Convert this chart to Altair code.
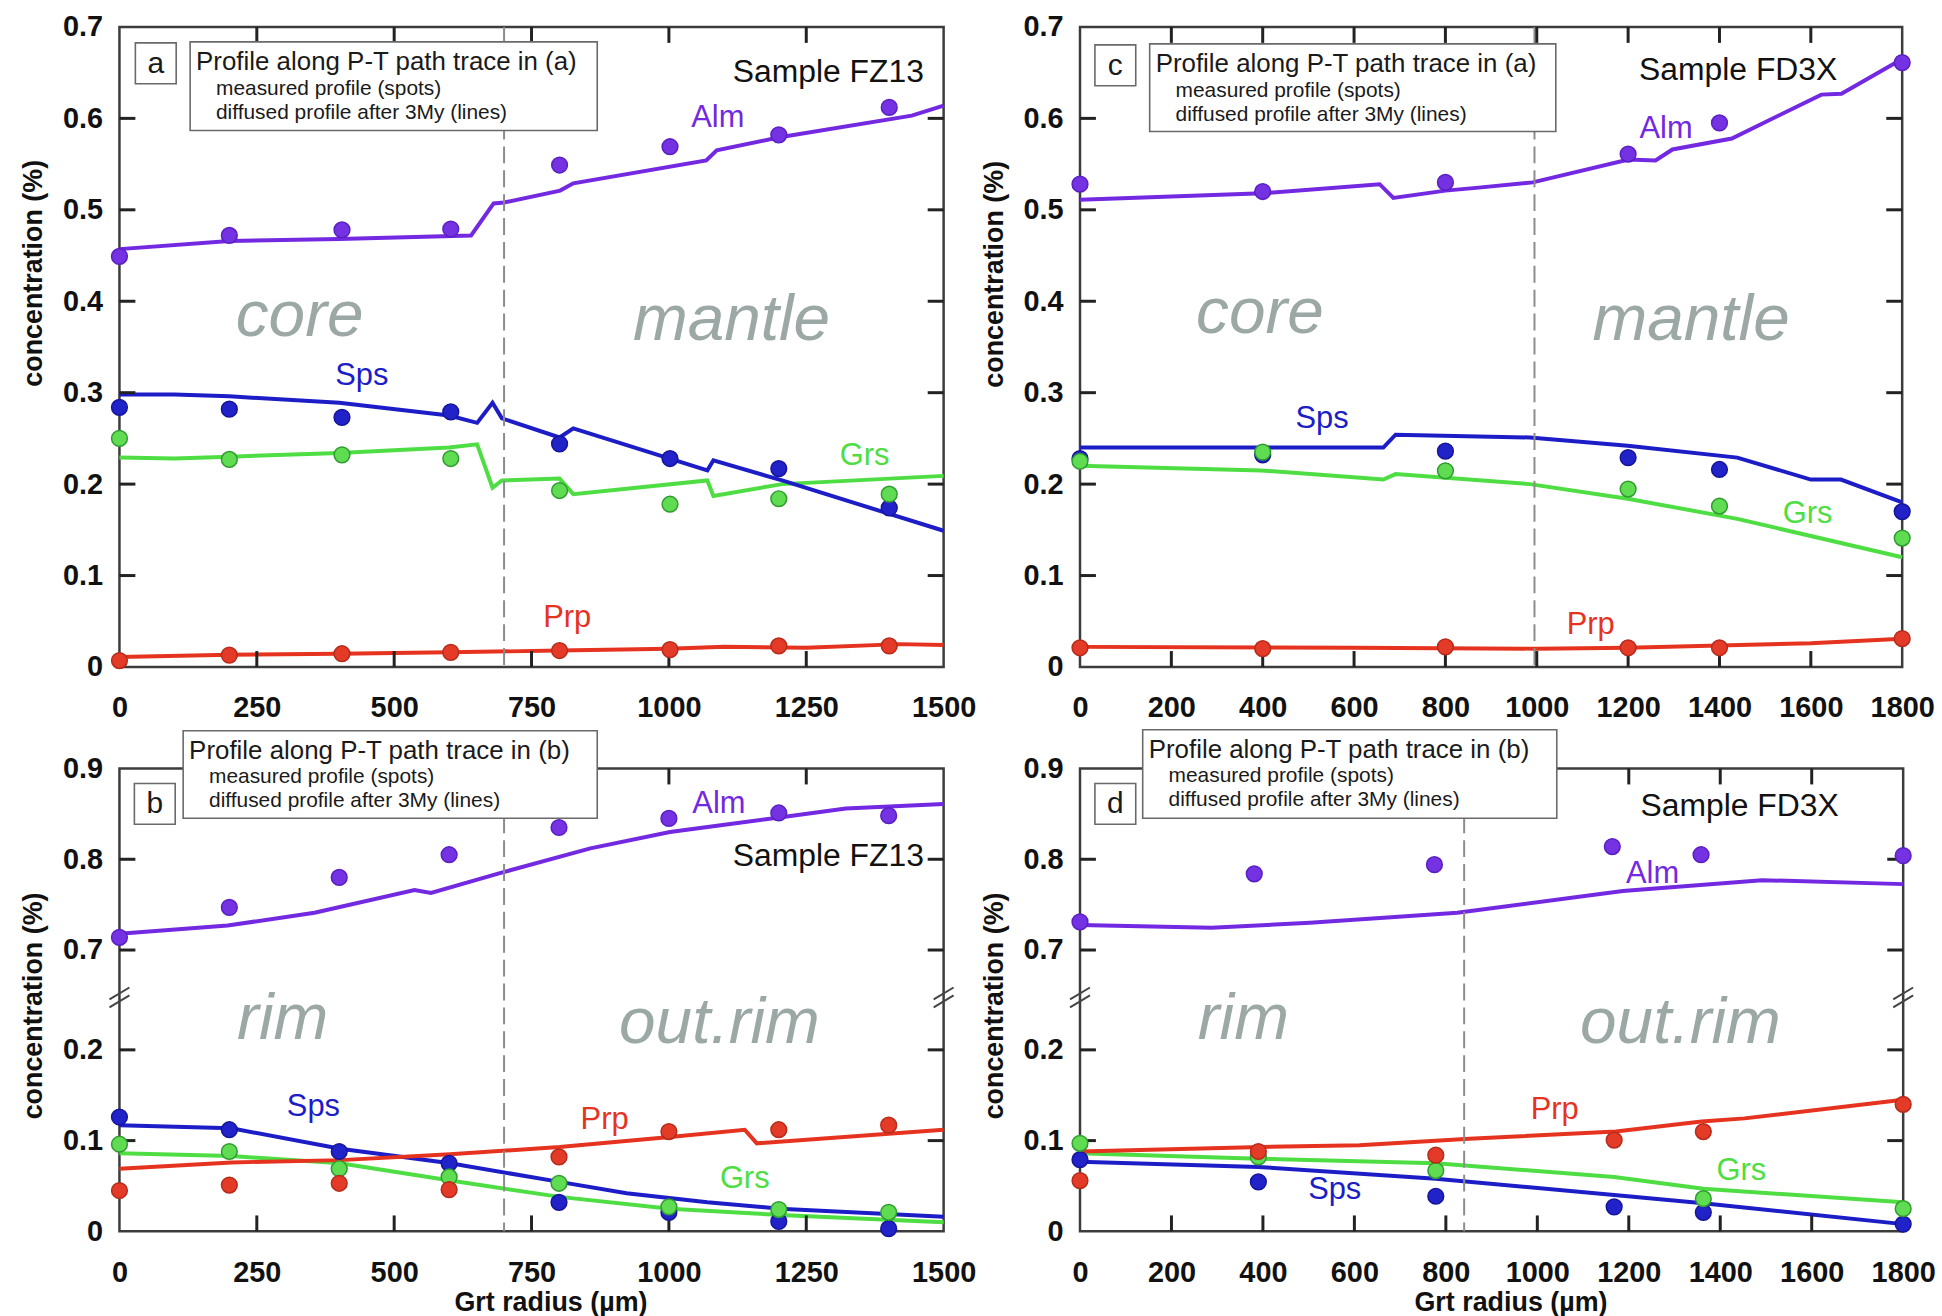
import altair as alt
import pandas as pd

FONT = "Liberation Sans, Arial, Helvetica, sans-serif"
SPECIES = ["Alm", "Sps", "Grs", "Prp"]
LINE_COLORS = ["#7329e1", "#1d1dc7", "#4ede43", "#e6331f"]
DOT_FILLS = ["#7432e3", "#2222c9", "#5fdc52", "#e33b28"]
DOT_STROKES = ["#5a1fc2", "#15159c", "#2f9b30", "#b62b1b"]
REGION_GRAY = "#9ba8a5"

# ---------------- panel a (FZ13, path a) ----------------
A_PTS_X = [0, 200, 405, 603, 801, 1002, 1200, 1401]
A_PTS_ALM = [0.449, 0.472, 0.478, 0.479, 0.549, 0.569, 0.582, 0.612]
A_PTS_SPS = [0.284, 0.282, 0.273, 0.279, 0.244, 0.228, 0.217, 0.174]
A_PTS_GRS = [0.250, 0.227, 0.232, 0.228, 0.193, 0.178, 0.184, 0.189]
A_PTS_PRP = [0.007, 0.013, 0.0145, 0.016, 0.018, 0.019, 0.023, 0.023]
A_ALM_X = [0, 200, 400, 640, 681, 700, 802, 826, 1068, 1087, 1199, 1442, 1500]
A_ALM_C = [0.457, 0.466, 0.468, 0.472, 0.507, 0.508, 0.521, 0.529, 0.554, 0.565, 0.579, 0.603, 0.614]
A_SPS_X = [0, 100, 200, 400, 600, 651, 679, 696, 801, 826, 1070, 1081, 1206, 1500]
A_SPS_C = [0.298, 0.298, 0.296, 0.289, 0.275, 0.267, 0.289, 0.272, 0.251, 0.261, 0.215, 0.226, 0.204, 0.149]
A_GRS_X = [0, 100, 200, 400, 600, 651, 679, 696, 801, 826, 1070, 1081, 1206, 1500]
A_GRS_C = [0.229, 0.228, 0.230, 0.234, 0.240, 0.2435, 0.196, 0.204, 0.206, 0.189, 0.204, 0.187, 0.200, 0.209]
A_PRP_X = [0, 200, 400, 600, 800, 1000, 1100, 1250, 1420, 1500]
A_PRP_C = [0.011, 0.0135, 0.0145, 0.016, 0.018, 0.020, 0.022, 0.021, 0.025, 0.024]
A_LBL_X = [1089, 441, 1356, 815]
A_LBL_C = [0.600, 0.318, 0.231, 0.053]

# ---------------- panel c (FD3X, path a) ----------------
C_PTS_X = [0, 400, 800, 1200, 1400, 1800]
C_PTS_ALM = [0.528, 0.520, 0.530, 0.561, 0.595, 0.661]
C_PTS_SPS = [0.228, 0.232, 0.236, 0.229, 0.216, 0.170]
C_PTS_GRS = [0.225, 0.235, 0.2145, 0.1946, 0.176, 0.141]
C_PTS_PRP = [0.021, 0.020, 0.022, 0.021, 0.021, 0.031]
C_ALM_X = [0, 400, 656, 686, 800, 867, 991, 1201, 1260, 1297, 1427, 1623, 1667, 1800]
C_ALM_C = [0.511, 0.518, 0.528, 0.513, 0.521, 0.524, 0.530, 0.555, 0.554, 0.566, 0.578, 0.626, 0.627, 0.665]
C_SPS_X = [0, 664, 691, 985, 1199, 1439, 1600, 1666, 1800]
C_SPS_C = [0.240, 0.240, 0.254, 0.251, 0.242, 0.229, 0.205, 0.205, 0.180]
C_GRS_X = [0, 397, 664, 691, 985, 1199, 1439, 1800]
C_GRS_C = [0.220, 0.215, 0.205, 0.211, 0.200, 0.184, 0.162, 0.120]
C_PRP_X = [0, 600, 1000, 1200, 1600, 1800]
C_PRP_C = [0.022, 0.021, 0.020, 0.021, 0.026, 0.031]
C_LBL_X = [1283, 530, 1593, 1118]
C_LBL_C = [0.588, 0.271, 0.167, 0.046]

# ---------------- panel b (FZ13, path b) ----------------
B_PTS_X = [0, 200, 400, 600, 800, 1000, 1200, 1400]
B_PTS_ALM = [0.714, 0.747, 0.780, 0.805, 0.835, 0.845, 0.851, 0.848]
B_PTS_SPS = [0.126, 0.112, 0.088, 0.075, 0.032, 0.021, 0.011, 0.003]
B_PTS_GRS = [0.096, 0.088, 0.069, 0.060, 0.053, 0.027, 0.024, 0.021]
B_PTS_PRP = [0.045, 0.051, 0.053, 0.046, 0.082, 0.110, 0.112, 0.117]
B_ALM_X = [0, 197, 355, 537, 567, 694, 857, 1002, 1201, 1322, 1500]
B_ALM_C = [0.718, 0.727, 0.741, 0.766, 0.763, 0.785, 0.812, 0.830, 0.846, 0.856, 0.861]
B_SPS_X = [0, 204, 402, 602, 801, 923, 1070, 1202, 1500]
B_SPS_C = [0.117, 0.1135, 0.091, 0.075, 0.0545, 0.042, 0.032, 0.025, 0.016]
B_GRS_X = [0, 204, 402, 602, 801, 1002, 1202, 1500]
B_GRS_C = [0.086, 0.083, 0.075, 0.056, 0.038, 0.025, 0.018, 0.010]
B_PRP_X = [0, 204, 402, 602, 801, 1002, 1138, 1160, 1500]
B_PRP_C = [0.069, 0.076, 0.0785, 0.085, 0.093, 0.104, 0.112, 0.097, 0.112]
B_LBL_X = [1091, 353, 1138, 883]
B_LBL_C = [0.861, 0.137, 0.058, 0.123]

# ---------------- panel d (FD3X, path b) ----------------
D_ALM_PX = [0, 381, 775, 1164, 1358, 1800]
D_PTS_ALM = [0.731, 0.784, 0.794, 0.814, 0.805, 0.804]
D_SPS_PX = [0, 390, 778, 1168, 1363, 1800]
D_PTS_SPS = [0.079, 0.0545, 0.0387, 0.027, 0.021, 0.008]
D_GRS_PX = [0, 390, 778, 1363, 1800]
D_PTS_GRS = [0.097, 0.082, 0.067, 0.036, 0.025]
D_PRP_PX = [0, 390, 778, 1168, 1363, 1800]
D_PTS_PRP = [0.056, 0.088, 0.084, 0.1006, 0.110, 0.140]
D_ALM_X = [0, 288, 503, 825, 1187, 1491, 1800]
D_ALM_C = [0.7276, 0.7246, 0.730, 0.741, 0.765, 0.777, 0.7726]
D_SPS_X = [0, 390, 778, 1168, 1363, 1800]
D_SPS_C = [0.0766, 0.071, 0.058, 0.040, 0.031, 0.008]
D_GRS_X = [0, 390, 778, 1168, 1363, 1800]
D_GRS_C = [0.086, 0.080, 0.075, 0.060, 0.047, 0.032]
D_PRP_X = [0, 397, 611, 851, 1172, 1359, 1453, 1800]
D_PRP_C = [0.088, 0.093, 0.095, 0.102, 0.110, 0.121, 0.1245, 0.145]
D_LBL_X = [1252, 557, 1446, 1038]
D_LBL_C = [0.784, 0.045, 0.067, 0.1337]

# axis ticks
X_TICKS_1500 = [0, 250, 500, 750, 1000, 1250, 1500]
X_TICKS_1800 = [0, 200, 400, 600, 800, 1000, 1200, 1400, 1600, 1800]
Y_TICKS_TOP = [0, 0.1, 0.2, 0.3, 0.4, 0.5, 0.6, 0.7]
Y_TICKS_BOT = [0, 0.1, 0.2, 0.7, 0.8, 0.9]

# broken axis: values above the break are shifted down by BREAK_SHIFT
BREAK_AT = 0.45
BREAK_SHIFT = 0.39
EXPR_TOP = "datum.c"
EXPR_BOT = f"datum.c < {BREAK_AT} ? datum.c : datum.c - {BREAK_SHIFT}"
LABEL_TOP = "datum.value == 0 ? '0' : format(datum.value, '.1f')"
LABEL_BOT = (f"datum.value == 0 ? '0' : (datum.value > 0.25 ? "
             f"format(datum.value + {BREAK_SHIFT}, '.1f') : format(datum.value, '.1f'))")

DUMMY = pd.DataFrame({"k": [0]})


def series_df(items):
    rows = []
    for sp, xs, cs in items:
        for x, c in zip(xs, cs):
            rows.append({"sp": sp, "x": x, "c": c})
    return pd.DataFrame(rows)


def ptext(s, px, py, size, align="left"):
    return alt.Chart(DUMMY).mark_text(
        text=s, fontSize=size, font=FONT, align=align, baseline="middle",
        color="#1a1a1a",
    ).encode(x=alt.value(px), y=alt.value(py))


def prect(x0, y0, x1, y1):
    return alt.Chart(DUMMY).mark_rect(
        fill="white", stroke="#6a6a6a", strokeWidth=1.6
    ).encode(x=alt.value(x0), x2=alt.value(x1), y=alt.value(y0), y2=alt.value(y1))


def panel(W, H, xmax, xticks, broken, ytitle_y, lines, pts, lbl_x, lbl_c,
          dash_x, regions, sample, letter, letter_box, legend_title, legend_box, xtitle):
    expr = EXPR_BOT if broken else EXPR_TOP
    if broken:
        ytop = 0.9 - BREAK_SHIFT
        yvals = [v if v < BREAK_AT else round(v - BREAK_SHIFT, 3) for v in Y_TICKS_BOT]
        yticks_c = Y_TICKS_BOT
        lab = LABEL_BOT
    else:
        ytop = 0.7
        yvals = Y_TICKS_TOP
        yticks_c = Y_TICKS_TOP
        lab = LABEL_TOP
    xs = alt.Scale(domain=[0, xmax], nice=False, zero=False)
    ys = alt.Scale(domain=[0, ytop], nice=False, zero=False)
    x_kw = dict(values=xticks, format="d", labelFont=FONT, labelFontSize=29,
                labelFontWeight="bold", labelColor="#111", labelPadding=27,
                ticks=False, domain=False, grid=False, labelFlush=False)
    if xtitle:
        x_axis = alt.Axis(title=xtitle, titleFont=FONT, titleFontSize=27,
                          titleFontWeight="bold", titleColor="#111", titlePadding=3,
                          titleX=W / 2 + 19, **x_kw)
    else:
        x_axis = alt.Axis(title=None, **x_kw)
    y_axis = alt.Axis(values=yvals, labelExpr=lab,
                      labelFont=FONT, labelFontSize=29, labelFontWeight="bold",
                      labelColor="#111", labelPadding=17, ticks=False, domain=False,
                      grid=False, title="concentration (%)", titleFont=FONT,
                      titleFontSize=27, titleFontWeight="bold", titleColor="#111",
                      titlePadding=15, titleY=ytitle_y)
    # same encoding (with identical axis definition) in every layer, so the
    # layer axes merge without conflict
    X = alt.X("x:Q", scale=xs, axis=x_axis)
    Y = alt.Y("t:Q", scale=ys, axis=y_axis)
    cscale = alt.Scale(domain=SPECIES, range=LINE_COLORS)

    layers = []
    # diffused profiles
    layers.append(alt.Chart(series_df(lines)).transform_calculate(t=expr).mark_line(
        strokeWidth=4).encode(x=X, y=Y, color=alt.Color("sp:N", scale=cscale, legend=None)))
    # core / mantle boundary
    layers.append(alt.Chart(pd.DataFrame({"x": [dash_x]})).mark_rule(
        color="#8c8c8c", strokeWidth=2, strokeDash=[17, 7]).encode(x=X))
    # inner ticks
    inner_x = [t for t in xticks if 0 < t < xmax]
    inner_y = yticks_c[1:-1]
    dfx = pd.DataFrame({"x": inner_x})
    dfy = pd.DataFrame({"c": inner_y})
    tick_style = dict(color="#222", strokeWidth=3)
    layers.append(alt.Chart(dfx).mark_rule(**tick_style).encode(
        x=X, y=alt.value(0), y2=alt.value(16)))
    layers.append(alt.Chart(dfx).mark_rule(**tick_style).encode(
        x=X, y=alt.value(H), y2=alt.value(H - 16)))
    layers.append(alt.Chart(dfy).transform_calculate(t=expr).mark_rule(**tick_style).encode(
        y=Y, x=alt.value(0), x2=alt.value(16)))
    layers.append(alt.Chart(dfy).transform_calculate(t=expr).mark_rule(**tick_style).encode(
        y=Y, x=alt.value(W), x2=alt.value(W - 16)))
    # measured spots
    layers.append(alt.Chart(series_df(pts)).transform_calculate(t=expr).mark_point(
        filled=True, size=250, opacity=1, strokeWidth=1.5).encode(
        x=X, y=Y,
        fill=alt.Fill("sp:N", scale=alt.Scale(domain=SPECIES, range=DOT_FILLS), legend=None),
        stroke=alt.Stroke("sp:N", scale=alt.Scale(domain=SPECIES, range=DOT_STROKES), legend=None)))
    # species labels
    lbl = pd.DataFrame({"sp": SPECIES, "x": lbl_x, "c": lbl_c})
    layers.append(alt.Chart(lbl).transform_calculate(t=expr).mark_text(
        fontSize=31, font=FONT, baseline="middle").encode(
        x=X, y=Y, text="sp:N", color=alt.Color("sp:N", scale=cscale, legend=None)))
    # region labels
    reg = pd.DataFrame({"r": [r[0] for r in regions], "x": [r[1] for r in regions],
                        "c": [r[2] for r in regions]})
    layers.append(alt.Chart(reg).transform_calculate(t=expr).mark_text(
        fontSize=66, font=FONT, fontStyle="italic", color=REGION_GRAY,
        baseline="alphabetic").encode(x=X, y=Y, text="r:N"))
    # sample label
    smp = pd.DataFrame({"r": [sample[0]], "x": [sample[1]], "c": [sample[2]]})
    layers.append(alt.Chart(smp).transform_calculate(t=expr).mark_text(
        fontSize=32, font=FONT, align="right", baseline="middle", color="#111").encode(
        x=X, y=Y, text="r:N"))
    # letter box
    lx, ly = letter_box
    layers.append(prect(lx, ly, lx + 41, ly + 41))
    layers.append(ptext(letter, lx + 20.5, ly + 21, 30, align="center"))
    # legend box
    bx0, by0, bx1, by1 = legend_box
    layers.append(prect(bx0, by0, bx1, by1))
    layers.append(ptext(legend_title, bx0 + 6, by0 + 20, 26))
    layers.append(ptext("measured profile (spots)", bx0 + 26, by0 + 47, 21))
    layers.append(ptext("diffused profile after 3My (lines)", bx0 + 26, by0 + 71, 21))
    # axis break marks
    if broken:
        for ex in (0, W):
            for yy in (226, 234):
                layers.append(alt.Chart(DUMMY).mark_rule(color="#444", strokeWidth=2).encode(
                    x=alt.value(ex - 10), x2=alt.value(ex + 10),
                    y=alt.value(yy + 6), y2=alt.value(yy - 6)))
    return alt.layer(*layers).properties(width=W, height=H)


TOP_H = 643
BOT_H = 465

pa = panel(828, TOP_H, 1500, X_TICKS_1500, False, 247,
           [("Alm", A_ALM_X, A_ALM_C), ("Grs", A_GRS_X, A_GRS_C),
            ("Sps", A_SPS_X, A_SPS_C), ("Prp", A_PRP_X, A_PRP_C)],
           [("Alm", A_PTS_X, A_PTS_ALM), ("Sps", A_PTS_X, A_PTS_SPS),
            ("Grs", A_PTS_X, A_PTS_GRS), ("Prp", A_PTS_X, A_PTS_PRP)],
           A_LBL_X, A_LBL_C, 700,
           [("core", 328, 0.362), ("mantle", 1114, 0.358)],
           ("Sample FZ13", 1464, 0.651), "a", (16, 16),
           "Profile along P-T path trace in (a)", (71, 15, 480, 104), None)

pc = panel(826, TOP_H, 1800, X_TICKS_1800, False, 248,
           [("Alm", C_ALM_X, C_ALM_C), ("Grs", C_GRS_X, C_GRS_C),
            ("Sps", C_SPS_X, C_SPS_C), ("Prp", C_PRP_X, C_PRP_C)],
           [("Alm", C_PTS_X, C_PTS_ALM), ("Sps", C_PTS_X, C_PTS_SPS),
            ("Grs", C_PTS_X, C_PTS_GRS), ("Prp", C_PTS_X, C_PTS_PRP)],
           C_LBL_X, C_LBL_C, 995,
           [("core", 394, 0.365), ("mantle", 1338, 0.358)],
           ("Sample FD3X", 1658, 0.653), "c", (15, 18),
           "Profile along P-T path trace in (a)", (70, 17, 478, 105), None)

pb = panel(828, BOT_H, 1500, X_TICKS_1500, True, 238,
           [("Alm", B_ALM_X, B_ALM_C), ("Grs", B_GRS_X, B_GRS_C),
            ("Sps", B_SPS_X, B_SPS_C), ("Prp", B_PRP_X, B_PRP_C)],
           [("Alm", B_PTS_X, B_PTS_ALM), ("Sps", B_PTS_X, B_PTS_SPS),
            ("Grs", B_PTS_X, B_PTS_GRS), ("Prp", B_PTS_X, B_PTS_PRP)],
           B_LBL_X, B_LBL_C, 700,
           [("rim", 297, 0.212), ("out.rim", 1092, 0.208)],
           ("Sample FZ13", 1464, 0.804), "b", (15, 15),
           "Profile along P-T path trace in (b)", (64, -38, 480, 50),
           "Grt radius (µm)")

pd_ = panel(827, BOT_H, 1800, X_TICKS_1800, True, 238,
            [("Alm", D_ALM_X, D_ALM_C), ("Grs", D_GRS_X, D_GRS_C),
             ("Sps", D_SPS_X, D_SPS_C), ("Prp", D_PRP_X, D_PRP_C)],
            [("Alm", D_ALM_PX, D_PTS_ALM), ("Sps", D_SPS_PX, D_PTS_SPS),
             ("Grs", D_GRS_PX, D_PTS_GRS), ("Prp", D_PRP_PX, D_PTS_PRP)],
            D_LBL_X, D_LBL_C, 840,
            [("rim", 357, 0.212), ("out.rim", 1313, 0.208)],
            ("Sample FD3X", 1659, 0.859), "d", (15, 15),
            "Profile along P-T path trace in (b)", (63, -39, 479, 50),
            "Grt radius (µm)")

chart = alt.concat(
    pa, pc, pb, pd_, columns=2, spacing=alt.RowColnumber(row=102, column=137),
    bounds="flush",
).resolve_scale(x="independent", y="independent").properties(
    padding={"left": 18, "top": 8, "right": 5, "bottom": 5}
).configure_view(stroke="#3c3c3c", strokeWidth=2.5)

chart.save("out.html", embed_options={"renderer": "svg", "actions": False})
